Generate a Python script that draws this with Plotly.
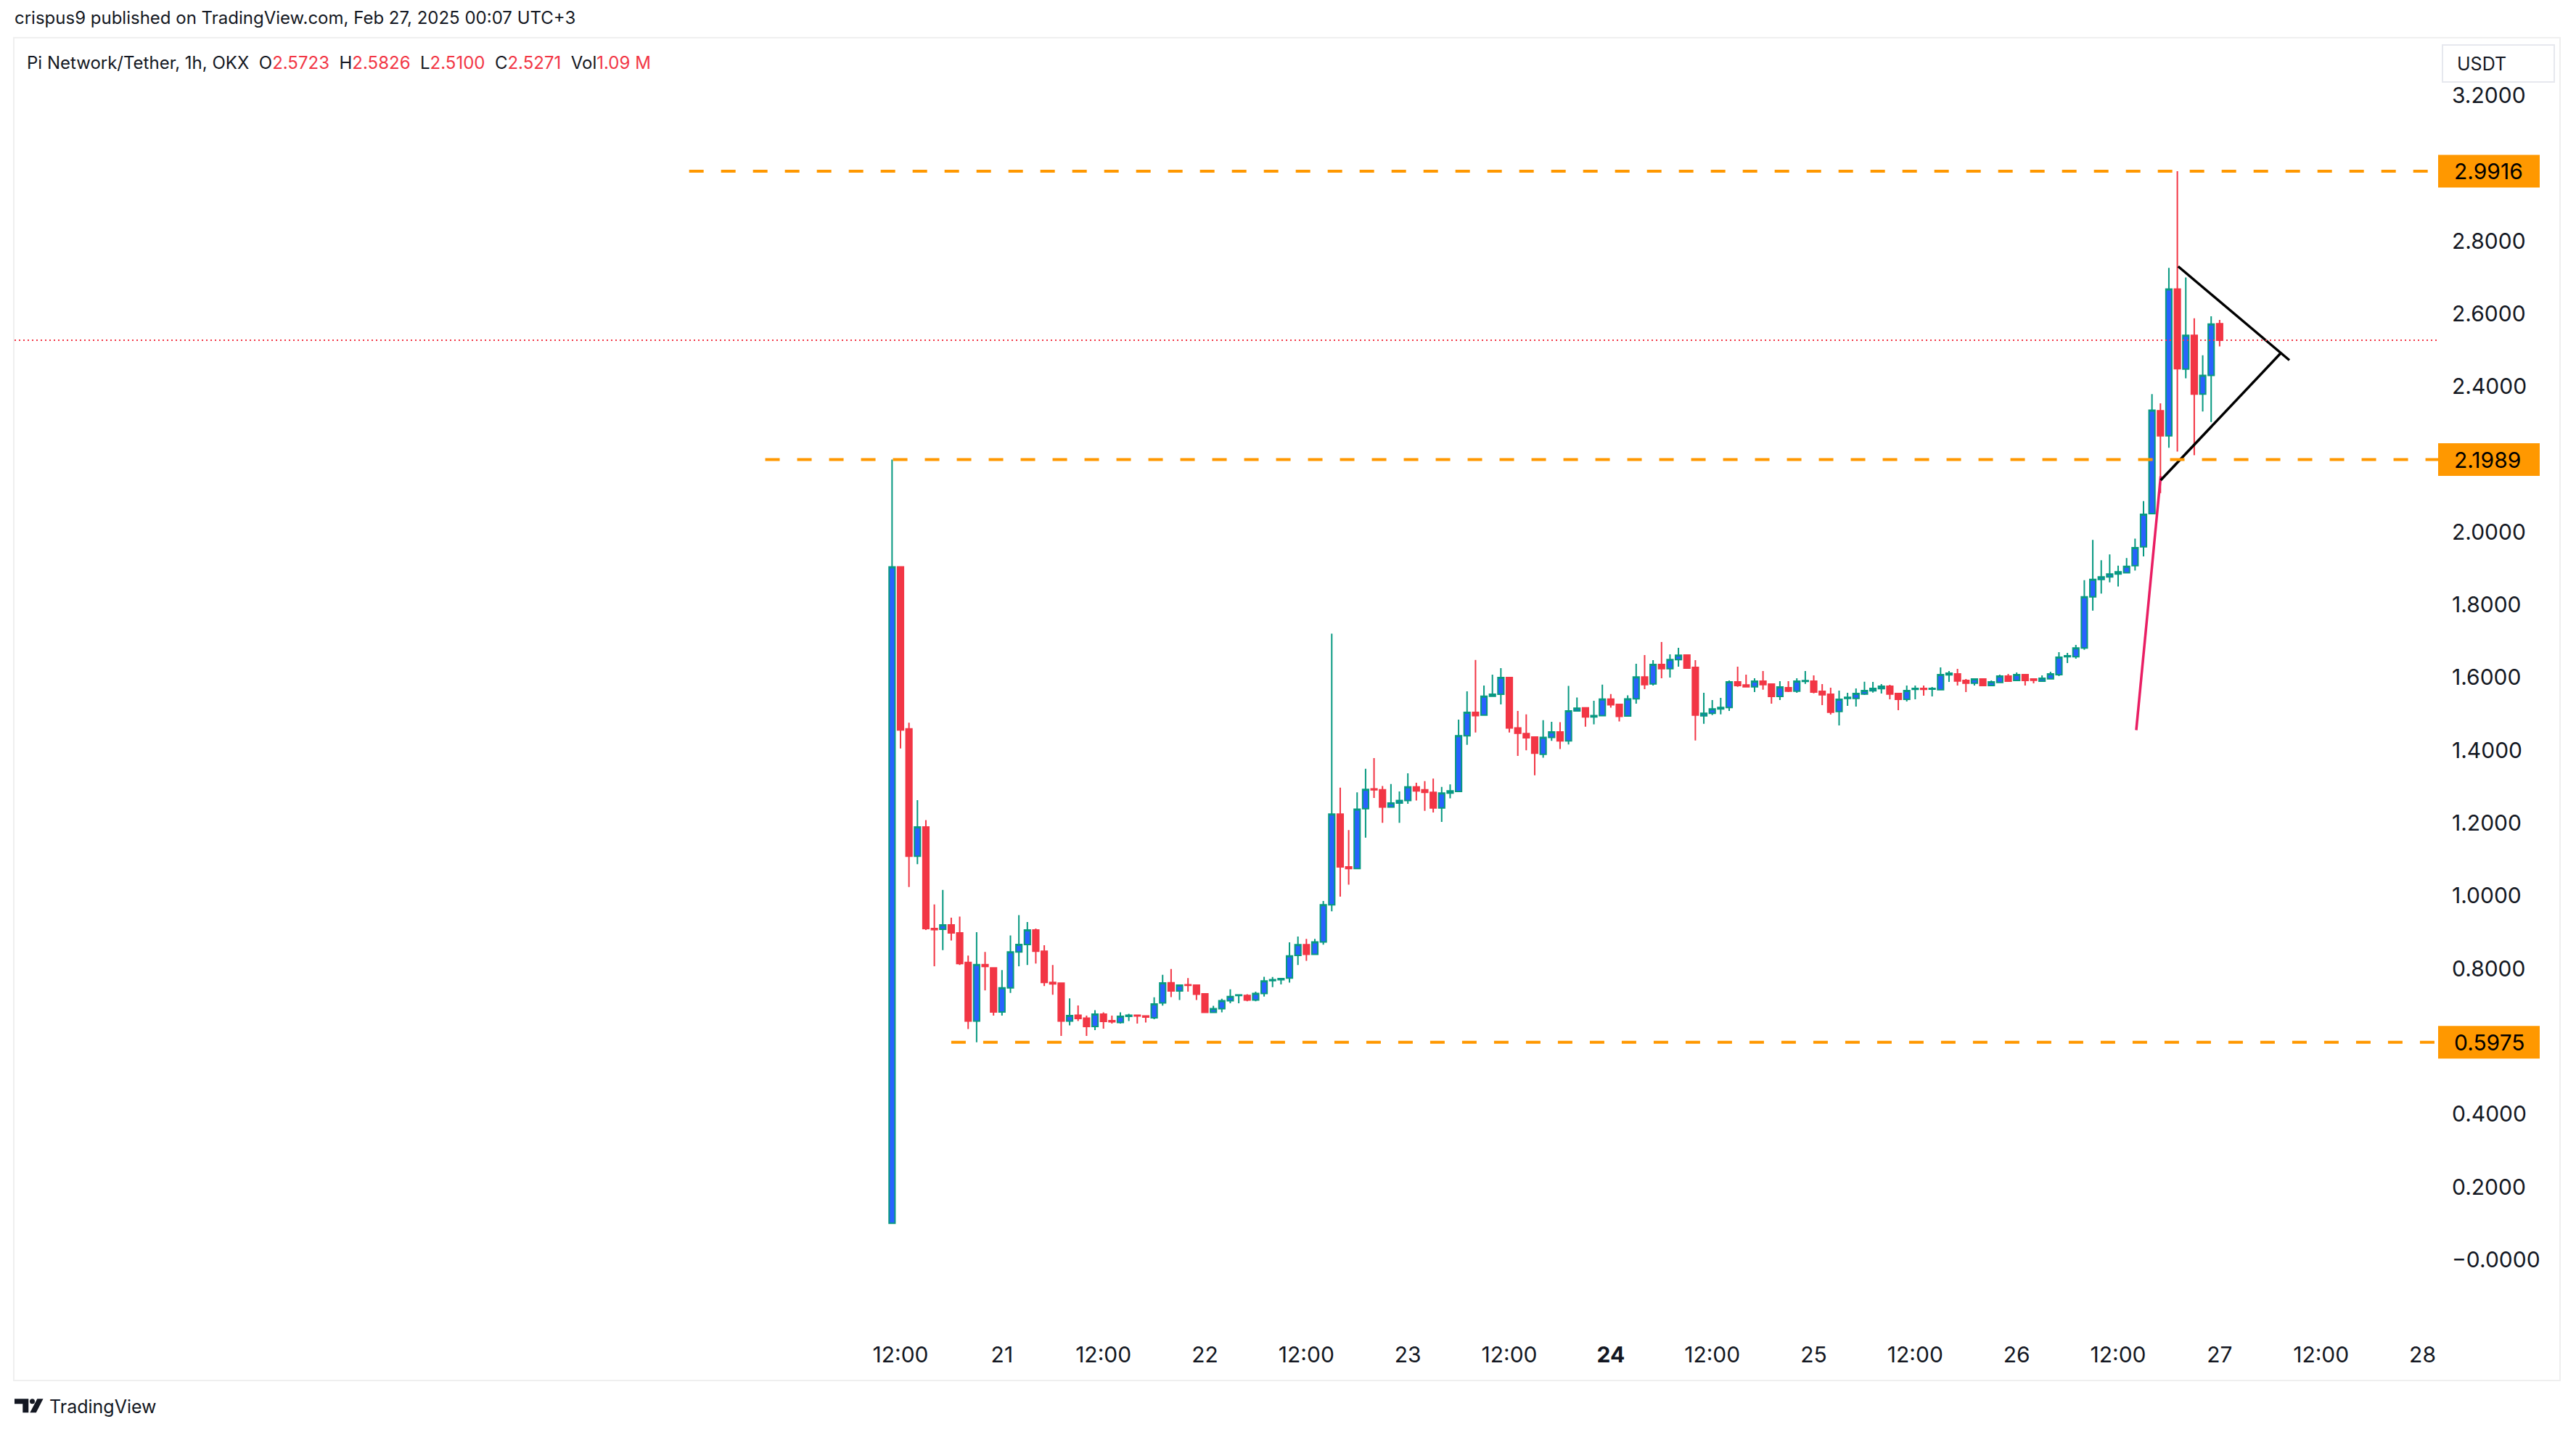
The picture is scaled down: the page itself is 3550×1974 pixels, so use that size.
import pandas as pd
import plotly.graph_objects as go

# ---------------- data ----------------
FIRST_BAR = "2025-02-20 11:00"   # 1h bars, OKX PI/USDT
OPEN = [
    0.100, 1.904, 1.459, 1.109, 1.189, 0.910, 0.908, 0.920, 0.898, 0.817,
    0.656, 0.811, 0.802, 0.681, 0.747, 0.846, 0.866, 0.906, 0.848, 0.762,
    0.760, 0.656, 0.672, 0.664, 0.641, 0.675, 0.657, 0.652, 0.669, 0.672,
    0.670, 0.665, 0.7057, 0.761, 0.7386, 0.7555, 0.7546, 0.7306, 0.6799, 0.6896,
    0.7119, 0.7261, 0.7261, 0.7137, 0.7315, 0.7671, 0.7697, 0.7742, 0.8365, 0.8659,
    0.8392, 0.8730, 0.9753, 1.2245, 1.0795, 1.0750, 1.2397, 1.2940, 1.2913, 1.2441,
    1.2548, 1.2619, 1.2993, 1.2913, 1.2842, 1.2414, 1.2824, 1.2868, 1.4399, 1.5040,
    1.4969, 1.5485, 1.5538, 1.6001, 1.4613, 1.4461, 1.4364, 1.3892, 1.4355, 1.4506,
    1.4257, 1.5084, 1.5164, 1.4915, 1.4951, 1.5405, 1.5262, 1.4940, 1.5414, 1.6012,
    1.5826, 1.6358, 1.6245, 1.6490, 1.6617, 1.6278, 1.4949, 1.5015, 1.5135, 1.5175,
    1.5879, 1.5793, 1.5746, 1.5899, 1.5819, 1.5480, 1.5720, 1.5627, 1.5892, 1.5899,
    1.5620, 1.5540, 1.5068, 1.5427, 1.5427, 1.5547, 1.5633, 1.5693, 1.5759, 1.5560,
    1.5401, 1.5673, 1.5700, 1.5680, 1.5666, 1.6072, 1.6098, 1.5919, 1.5846, 1.5959,
    1.5779, 1.5866, 1.6038, 1.5919, 1.6078, 1.5959, 1.5899, 1.5966, 1.6078, 1.6570,
    1.6570, 1.6810, 1.8216, 1.8697, 1.8766, 1.8846, 1.8880, 1.9075, 1.9590, 2.0505,
    2.3331, 2.2645, 2.6673, 2.4476, 2.5403, 2.3789, 2.4304, 2.5723,
]
HIGH = [
    2.1989, 1.904, 1.476, 1.263, 1.208, 0.9765, 1.0164, 0.940, 0.943, 0.836,
    0.900, 0.846, 0.804, 0.796, 0.891, 0.947, 0.928, 0.910, 0.864, 0.810,
    0.760, 0.718, 0.699, 0.671, 0.686, 0.680, 0.671, 0.680, 0.676, 0.672,
    0.671, 0.721, 0.7831, 0.799, 0.756, 0.7742, 0.7546, 0.7306, 0.6976, 0.7172,
    0.7430, 0.7279, 0.7297, 0.7368, 0.7777, 0.7768, 0.7724, 0.8721, 0.8881, 0.8819,
    0.8819, 0.9860, 1.7203, 1.2975, 1.1809, 1.2842, 1.3491, 1.3785, 1.3020, 1.3073,
    1.2868, 1.3367, 1.3109, 1.3153, 1.3224, 1.2993, 1.3064, 1.4844, 1.5618, 1.6482,
    1.5779, 1.6081, 1.6259, 1.6010, 1.5084, 1.4986, 1.4370, 1.4826, 1.4782, 1.4773,
    1.5770, 1.5449, 1.5170, 1.5360, 1.5805, 1.5547, 1.5265, 1.5510, 1.6378, 1.6617,
    1.6477, 1.6975, 1.6637, 1.6816, 1.6620, 1.6477, 1.5580, 1.5381, 1.5441, 1.5919,
    1.6298, 1.6078, 1.5979, 1.6178, 1.5820, 1.5899, 1.5899, 1.5979, 1.6178, 1.6058,
    1.5819, 1.5720, 1.5640, 1.5580, 1.5700, 1.5886, 1.5879, 1.5819, 1.5799, 1.5580,
    1.5779, 1.5779, 1.5779, 1.5739, 1.6278, 1.6178, 1.6238, 1.5959, 1.5979, 1.5979,
    1.5919, 1.6078, 1.6098, 1.6138, 1.6080, 1.5979, 1.6058, 1.6158, 1.6697, 1.6677,
    1.6896, 1.8674, 1.9784, 1.9223, 1.9383, 1.9075, 1.9281, 1.9818, 2.0848, 2.3789,
    2.3537, 2.7256, 2.9916, 2.6993, 2.5872, 2.4853, 2.5929, 2.5826,
]
LOW = [
    0.099, 1.405, 1.024, 1.087, 0.906, 0.8066, 0.851, 0.877, 0.810, 0.634,
    0.5975, 0.740, 0.671, 0.671, 0.733, 0.8066, 0.810, 0.814, 0.752, 0.728,
    0.615, 0.644, 0.656, 0.615, 0.631, 0.635, 0.649, 0.649, 0.656, 0.649,
    0.652, 0.661, 0.6985, 0.7217, 0.7137, 0.7368, 0.7137, 0.679, 0.6781, 0.6799,
    0.7048, 0.7048, 0.7101, 0.7101, 0.7234, 0.7493, 0.7564, 0.7617, 0.8098, 0.8213,
    0.8383, 0.8659, 0.9575, 0.9976, 1.0305, 1.0745, 1.1596, 1.2690, 1.2006, 1.2423,
    1.2006, 1.2530, 1.2619, 1.2334, 1.2290, 1.2032, 1.2681, 1.2860, 1.4150, 1.4488,
    1.4960, 1.5480, 1.5262, 1.4488, 1.3847, 1.3999, 1.3313, 1.3794, 1.4257, 1.4034,
    1.4159, 1.5066, 1.4648, 1.4711, 1.4940, 1.5173, 1.4791, 1.4920, 1.5281, 1.5680,
    1.5779, 1.5979, 1.5999, 1.6298, 1.6238, 1.4271, 1.4729, 1.4969, 1.4989, 1.5082,
    1.5746, 1.5733, 1.5600, 1.5666, 1.5281, 1.5381, 1.5600, 1.5580, 1.5826, 1.5567,
    1.5241, 1.4982, 1.4683, 1.5221, 1.5201, 1.5520, 1.5587, 1.5560, 1.5401, 1.5102,
    1.5341, 1.5401, 1.5500, 1.5480, 1.5647, 1.5879, 1.5779, 1.5600, 1.5779, 1.5779,
    1.5779, 1.5866, 1.5899, 1.5899, 1.5779, 1.5839, 1.5899, 1.5966, 1.6038, 1.6397,
    1.6517, 1.6760, 1.7839, 1.8308, 1.8617, 1.8502, 1.8878, 1.8937, 1.9326, 2.0500,
    2.1066, 2.2313, 2.2210, 2.4224, 2.2107, 2.3308, 2.3022, 2.5100,
]
CLOSE = [
    1.904, 1.456, 1.109, 1.189, 0.910, 0.907, 0.920, 0.898, 0.814, 0.656,
    0.811, 0.806, 0.681, 0.747, 0.846, 0.866, 0.906, 0.848, 0.762, 0.758,
    0.656, 0.671, 0.663, 0.641, 0.675, 0.655, 0.654, 0.669, 0.672, 0.670,
    0.667, 0.703, 0.7608, 0.7386, 0.7546, 0.7540, 0.7297, 0.6799, 0.6896, 0.7119,
    0.7234, 0.7279, 0.7137, 0.7315, 0.7662, 0.7697, 0.7724, 0.8347, 0.8659, 0.8392,
    0.8730, 0.9753, 1.2245, 1.0795, 1.0750, 1.2379, 1.2922, 1.2913, 1.2441, 1.2548,
    1.2619, 1.2993, 1.2886, 1.2842, 1.2414, 1.2824, 1.2886, 1.4399, 1.5040, 1.4951,
    1.5485, 1.5538, 1.6001, 1.4613, 1.4470, 1.4346, 1.3918, 1.4355, 1.4506, 1.4257,
    1.5084, 1.5155, 1.4915, 1.4951, 1.5405, 1.5253, 1.4933, 1.5410, 1.6012, 1.5806,
    1.6358, 1.6245, 1.6490, 1.6610, 1.6258, 1.4969, 1.5015, 1.5135, 1.5175, 1.5879,
    1.5779, 1.5746, 1.5899, 1.5806, 1.5480, 1.5739, 1.5627, 1.5899, 1.5912, 1.5600,
    1.5527, 1.5048, 1.5401, 1.5454, 1.5560, 1.5640, 1.5700, 1.5759, 1.5547, 1.5401,
    1.5640, 1.5700, 1.5673, 1.5700, 1.6078, 1.6118, 1.5906, 1.5846, 1.5959, 1.5779,
    1.5879, 1.6038, 1.5899, 1.6078, 1.5919, 1.5926, 1.5979, 1.6098, 1.6557, 1.6597,
    1.6810, 1.8216, 1.8697, 1.8766, 1.8846, 1.8903, 1.9052, 1.9567, 2.0482, 2.3343,
    2.2645, 2.6673, 2.4487, 2.5403, 2.3789, 2.4304, 2.5711, 2.5271,
]
VOLUME_TEXT = "1.09 M"

# horizontal levels drawn on the chart and the bar time (hours from Feb 20 12:00) they start at
LEVELS = [2.9916, 2.1989, 0.5975]
LEVEL_START_H = [-25, -16, 6]

# trend line and pennant (hours from Feb 20 12:00, price)
TREND_H = [146.14, 149.03]
TREND_V = [1.4554, 2.1535]
PENNANT_UP_H = [151.1, 164.25]
PENNANT_UP_V = [2.7297, 2.4721]
PENNANT_LO_H = [149.03, 163.19]
PENNANT_LO_V = [2.1422, 2.4904]

# axis ticks
X_TICK_H = [0, 12, 24, 36, 48, 60, 72, 84, 96, 108, 120, 132, 144, 156, 168, 180]
X_TICK_TEXT = ["12:00", "21", "12:00", "22", "12:00", "23", "12:00", "<b>24</b>",
               "12:00", "25", "12:00", "26", "12:00", "27", "12:00", "28"]
Y_TICK_VALS = [3.2, 2.8, 2.6, 2.4, 2.0, 1.8, 1.6, 1.4, 1.2, 1.0, 0.8, 0.4, 0.2, 0.0]
Y_TICK_TEXT = ["3.2000", "2.8000", "2.6000", "2.4000", "2.0000", "1.8000", "1.6000",
               "1.4000", "1.2000", "1.0000", "0.8000", "0.4000", "0.2000", "\u22120.0000"]

# ---------------- layout constants (pixels) ----------------
W, H = 3550, 1974
PANE_L, PANE_R, PANE_T, PANE_B = 20, 3360, 52, 1840
BASE = pd.Timestamp("2025-02-20 12:00")
X_BASE_PX, PX_PER_HOUR = 1241.0, 11.653
Y_ZERO_PX, PX_PER_UNIT = 1736.5, 501.6

INK = "#131722"
RED = "#F23645"
GREEN = "#089981"
BLUE = "#2962FF"
ORANGE = "#FF9800"
PINK = "#E91E63"
FONT = "Inter"


def px(x):
    return x / W


def py(y):
    return 1 - y / H


def at(h):
    return (BASE + pd.Timedelta(hours=h)).strftime("%Y-%m-%d %H:%M:%S")


times = pd.date_range(FIRST_BAR, periods=len(OPEN), freq="h").strftime("%Y-%m-%d %H:%M:%S")

x_left = at((PANE_L - X_BASE_PX) / PX_PER_HOUR)
x_right = at((PANE_R - X_BASE_PX) / PX_PER_HOUR)
y_bot = (Y_ZERO_PX - PANE_B) / PX_PER_UNIT
y_top = (Y_ZERO_PX - PANE_T) / PX_PER_UNIT

fig = go.Figure()
fig.add_trace(go.Candlestick(
    x=list(times), open=OPEN, high=HIGH, low=LOW, close=CLOSE,
    increasing=dict(line=dict(color=GREEN, width=2), fillcolor=BLUE),
    decreasing=dict(line=dict(color=RED, width=2), fillcolor=RED),
    whiskerwidth=0, hoverinfo="skip", showlegend=False,
))

# trend line and pennant
fig.add_trace(go.Scatter(x=[at(h) for h in TREND_H], y=TREND_V, mode="lines",
                         line=dict(color=PINK, width=3.5), hoverinfo="skip", showlegend=False))
fig.add_trace(go.Scatter(x=[at(h) for h in PENNANT_UP_H], y=PENNANT_UP_V, mode="lines",
                         line=dict(color="#000000", width=3.5), hoverinfo="skip", showlegend=False))
fig.add_trace(go.Scatter(x=[at(h) for h in PENNANT_LO_H], y=PENNANT_LO_V, mode="lines",
                         line=dict(color="#000000", width=3.5), hoverinfo="skip", showlegend=False))

shapes = []
annotations = []

# chart frame
shapes.append(dict(type="rect", xref="paper", yref="paper", x0=px(19), x1=px(3528),
                   y0=py(1903), y1=py(52), line=dict(color="#EFEFEF", width=2), layer="below"))

# last price dotted line
shapes.append(dict(type="line", xref="paper", yref="y", x0=px(PANE_L), x1=px(PANE_R),
                   y0=CLOSE[-1], y1=CLOSE[-1], line=dict(color=RED, width=2, dash="2px,4px")))

# orange levels
half_box = 22.5 / PX_PER_UNIT
for lv, h0 in zip(LEVELS, LEVEL_START_H):
    shapes.append(dict(type="line", xref="x", yref="y", x0=at(h0), x1=x_right, y0=lv, y1=lv,
                       line=dict(color=ORANGE, width=4, dash="20px,24px")))
    shapes.append(dict(type="rect", xref="paper", yref="y", x0=px(3360), x1=px(3500),
                       y0=lv - half_box, y1=lv + half_box, fillcolor=ORANGE,
                       line=dict(width=0)))
    annotations.append(dict(xref="paper", yref="y", x=px(3380), y=lv, xanchor="left",
                            yanchor="middle", text=f"{lv:.4f}", showarrow=False,
                            font=dict(family=FONT, size=30, color="#000000")))

# USDT box
shapes.append(dict(type="rect", xref="paper", yref="paper", x0=px(3366), x1=px(3520),
                   y0=py(113), y1=py(62), line=dict(color="#E6E8EE", width=2),
                   fillcolor="#FFFFFF"))
annotations.append(dict(xref="paper", yref="paper", x=px(3384), y=py(88), xanchor="left",
                        yanchor="middle", text="USDT", showarrow=False,
                        font=dict(family=FONT, size=25, color=INK)))

# header texts
annotations.append(dict(xref="paper", yref="paper", x=px(18), y=py(25), xanchor="left",
                        yanchor="middle", showarrow=False,
                        text="crispus9 published on TradingView.com, Feb 27, 2025 00:07 UTC+3",
                        font=dict(family=FONT, size=24, color=INK)))


def red(v):
    return f"<span style='color:{RED}'>{v}</span>"


legend = ("Pi Network/Tether, 1h, OKX&nbsp;&nbsp;"
          f"O{red(f'{OPEN[-1]:.4f}')}&nbsp;&nbsp;H{red(f'{HIGH[-1]:.4f}')}&nbsp;&nbsp;"
          f"L{red(f'{LOW[-1]:.4f}')}&nbsp;&nbsp;C{red(f'{CLOSE[-1]:.4f}')}&nbsp;&nbsp;"
          f"Vol{red(VOLUME_TEXT)}")
annotations.append(dict(xref="paper", yref="paper", x=px(35), y=py(87), xanchor="left",
                        yanchor="middle", showarrow=False, text=legend,
                        font=dict(family=FONT, size=24, color=INK)))


# TradingView logo
def path(points):
    return "M " + " L ".join(f"{px(x)},{py(y)}" for x, y in points) + " Z"


shapes.append(dict(type="path", xref="paper", yref="paper",
                   path=path([(20, 1928.3), (39.3, 1928.3), (39.3, 1947.3), (31.3, 1947.3),
                              (31.3, 1935.3), (20, 1935.3)]),
                   fillcolor=INK, line=dict(width=0)))
shapes.append(dict(type="circle", xref="paper", yref="paper", x0=px(41.0), x1=px(48.0),
                   y0=py(1935.2), y1=py(1928.2), fillcolor=INK, line=dict(width=0)))
shapes.append(dict(type="path", xref="paper", yref="paper",
                   path=path([(51.3, 1928.3), (59.5, 1928.3), (49.8, 1947.3), (41.3, 1947.3)]),
                   fillcolor=INK, line=dict(width=0)))
annotations.append(dict(xref="paper", yref="paper", x=px(66), y=py(1939), xanchor="left",
                        yanchor="middle", showarrow=False, text="TradingView",
                        font=dict(family=FONT, size=25, color=INK)))

fig.update_layout(
    width=W, height=H, margin=dict(l=0, r=0, t=0, b=0),
    paper_bgcolor="#FFFFFF", plot_bgcolor="#FFFFFF",
    showlegend=False, boxgap=0.3, boxgroupgap=0,
    shapes=shapes, annotations=annotations,
    xaxis=dict(domain=[px(PANE_L), px(PANE_R)], type="date", range=[x_left, x_right],
               tickvals=[at(h) for h in X_TICK_H], ticktext=X_TICK_TEXT,
               showgrid=False, zeroline=False, showline=False, ticks="",
               rangeslider=dict(visible=False), ticklabelstandoff=7,
               tickfont=dict(family=FONT, size=30, color=INK), fixedrange=True),
    yaxis=dict(domain=[py(PANE_B), py(PANE_T)], range=[y_bot, y_top], side="right",
               tickvals=Y_TICK_VALS, ticktext=Y_TICK_TEXT, showgrid=False, zeroline=False,
               showline=False, ticks="", ticklabelstandoff=18,
               tickfont=dict(family=FONT, size=30, color=INK), fixedrange=True),
)

fig.write_html("out.html", config={"displayModeBar": False},
               post_script="document.body.style.margin='0px';document.body.style.overflow='hidden';")
